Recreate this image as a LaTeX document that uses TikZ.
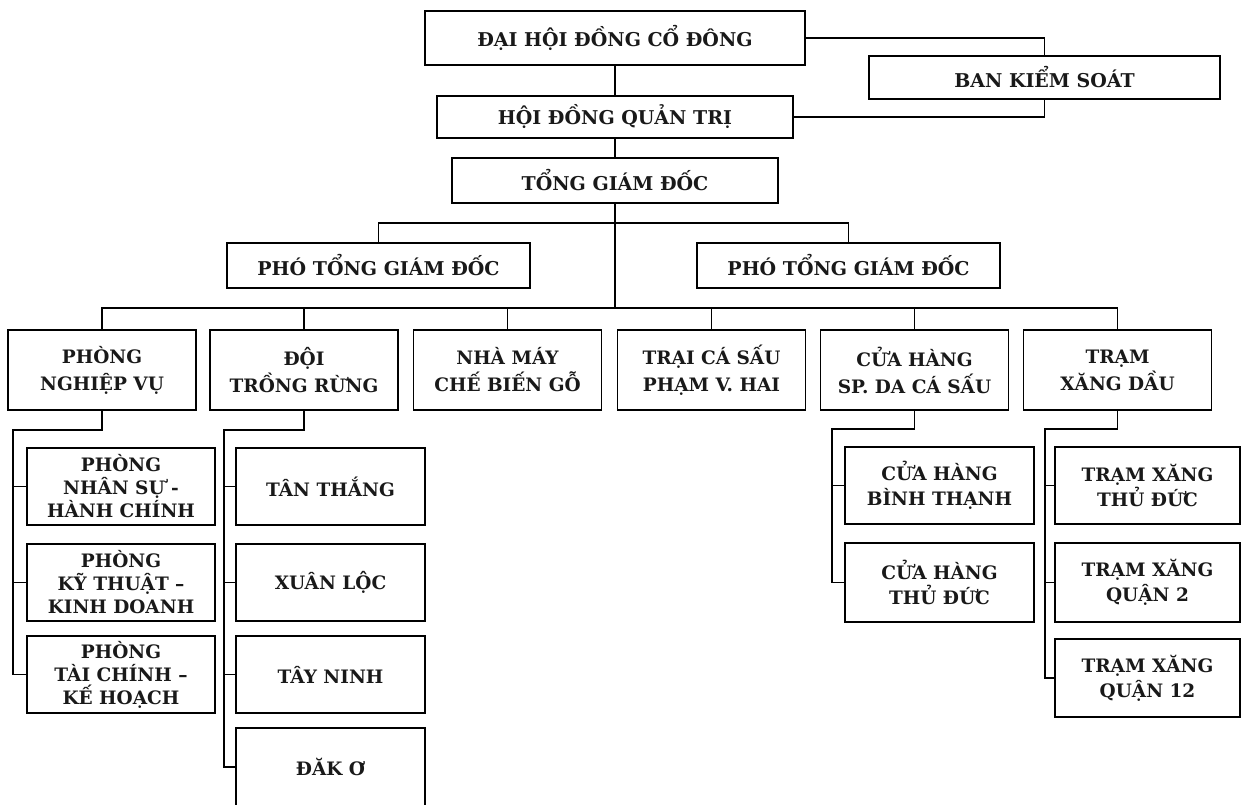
\documentclass[tikz,border=0pt]{standalone}
\usepackage{fontspec}
\setmainfont{DejaVu Serif}
\begin{document}
\begin{tikzpicture}[x=1pt,y=-1pt,
  box/.style={draw=black, line width=1.3pt, rectangle, inner sep=0pt, align=center,
    font=\bfseries\fontsize{18.5}{23}\selectfont, text=black!90},
  topbox/.style={box, font=\bfseries\fontsize{19}{23}\selectfont},
  l3/.style={box, minimum width=188pt, minimum height=80pt, font=\bfseries\fontsize{18.5}{27}\selectfont},
  sub/.style={box, minimum width=188pt, minimum height=77pt},
  sub2/.style={sub, font=\bfseries\fontsize{18.5}{25}\selectfont},
  conn/.style={line width=1.2pt, black}]
\useasboundingbox (0,0) rectangle (1242,805);
\fill[white] (0,0) rectangle (1242,805);
% top levels
\node[topbox, minimum width=380pt, minimum height=54pt] (dh) at (615,38) {ĐẠI HỘI ĐỒNG CỔ ĐÔNG};
\node[topbox, minimum width=351pt, minimum height=43pt] (bks) at (1044.5,77.5) {BAN KIỂM SOÁT};
\node[topbox, minimum width=356pt, minimum height=42pt] (hdqt) at (615,117) {HỘI ĐỒNG QUẢN TRỊ};
\node[topbox, minimum width=326pt, minimum height=45pt] (tgd) at (615,180.5) {TỔNG GIÁM ĐỐC};
\node[topbox, minimum width=303pt, minimum height=45pt] (ptl) at (378.5,265.5) {PHÓ TỔNG GIÁM ĐỐC};
\node[topbox, minimum width=303pt, minimum height=45pt] (ptr) at (848.5,265.5) {PHÓ TỔNG GIÁM ĐỐC};
% level 3
\node[l3] (la) at (102,370) {PHÒNG\\NGHIỆP VỤ};
\node[l3] (lb) at (304,370) {ĐỘI\\TRỒNG RỪNG};
\node[l3] (lc) at (507.5,370) {NHÀ MÁY\\CHẾ BIẾN GỖ};
\node[l3] (ld) at (711.5,370) {TRẠI CÁ SẤU\\PHẠM V. HAI};
\node[l3] (le) at (914.5,370) {CỬA HÀNG\\SP. DA CÁ SẤU};
\node[l3] (lf) at (1117.5,370) {TRẠM\\XĂNG DẦU};
% sub of la
\node[sub] (a1) at (121,486.5) {PHÒNG\\NHÂN SỰ -\\HÀNH CHÍNH};
\node[sub] (a2) at (121,582.5) {PHÒNG\\KỸ THUẬT –\\KINH DOANH};
\node[sub] (a3) at (121,674.5) {PHÒNG\\TÀI CHÍNH –\\KẾ HOẠCH};
% sub of lb
\node[sub, minimum width=189pt] (b1) at (330.5,486.5) {TÂN THẮNG};
\node[sub, minimum width=189pt] (b2) at (330.5,582.5) {XUÂN LỘC};
\node[sub, minimum width=189pt] (b3) at (330.5,674.5) {TÂY NINH};
\node[sub, minimum width=189pt, minimum height=78pt] (b4) at (330.5,767) {ĐĂK Ơ};
% sub of le
\node[sub2, minimum width=189pt] (e1) at (939.5,485.5) {CỬA HÀNG\\BÌNH THẠNH};
\node[sub2, minimum width=189pt, minimum height=79pt] (e2) at (939.5,582.5) {CỬA HÀNG\\THỦ ĐỨC};
% sub of lf
\node[sub2, minimum width=185pt] (f1) at (1147.5,485.5) {TRẠM XĂNG\\THỦ ĐỨC};
\node[sub2, minimum width=185pt, minimum height=79pt] (f2) at (1147.5,582.5) {TRẠM XĂNG\\QUẬN 2};
\node[sub2, minimum width=185pt, minimum height=78pt] (f3) at (1147.5,678) {TRẠM XĂNG\\QUẬN 12};
% helper coordinates
\coordinate (pt) at (615,223);
\coordinate (bus) at (615,308);
\coordinate (ra) at (13,430);
\coordinate (rb) at (224,430);
\coordinate (rc) at (832,429);
\coordinate (rd) at (1045,429);
% connectors top
\draw[conn] (dh.south) -- (hdqt.north);
\draw[conn] (hdqt.south) -- (tgd.north);
\draw[conn] (dh.east) -| (bks.north);
\draw[conn] (hdqt.east) -| (bks.south);
\draw[conn] (tgd.south) -- (bus);
\draw[conn] (ptl.north) |- (pt) -| (ptr.north);
% bus
\draw[conn] (la.north) |- (bus) -| (lf.north);
\draw[conn] (lb.north) -- (lb.north |- bus);
\draw[conn] (lc.north) -- (lc.north |- bus);
\draw[conn] (ld.north) -- (ld.north |- bus);
\draw[conn] (le.north) -- (le.north |- bus);
% group a
\draw[conn] (la.south) |- (ra) |- (a3.west);
\draw[conn] (ra |- a1.west) -- (a1.west);
\draw[conn] (ra |- a2.west) -- (a2.west);
% group b
\draw[conn] (lb.south) |- (rb) |- (b4.west);
\draw[conn] (rb |- b1.west) -- (b1.west);
\draw[conn] (rb |- b2.west) -- (b2.west);
\draw[conn] (rb |- b3.west) -- (b3.west);
% group e
\draw[conn] (le.south) |- (rc) |- (e2.west);
\draw[conn] (rc |- e1.west) -- (e1.west);
% group f
\draw[conn] (lf.south) |- (rd) |- (f3.west);
\draw[conn] (rd |- f1.west) -- (f1.west);
\draw[conn] (rd |- f2.west) -- (f2.west);
\end{tikzpicture}
\end{document}
